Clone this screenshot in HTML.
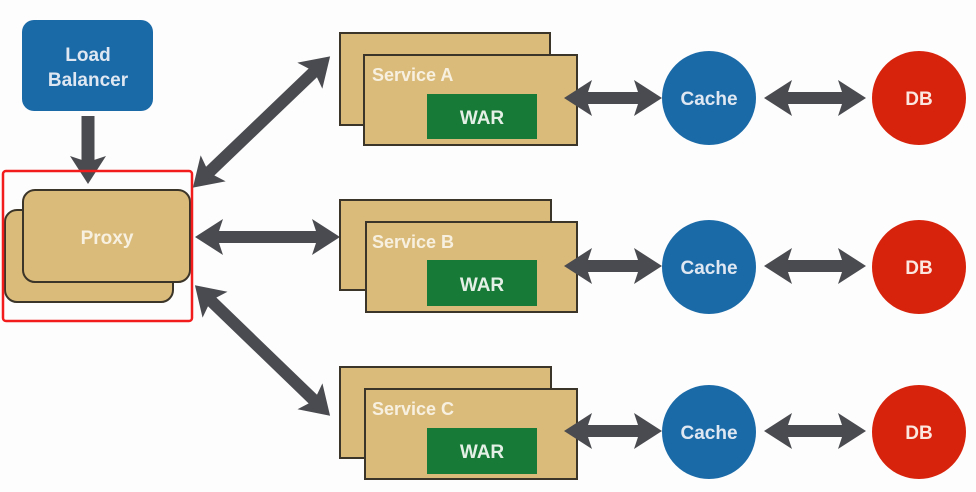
<!DOCTYPE html>
<html><head><meta charset="utf-8"><style>
html,body{margin:0;padding:0;background:#fff;}
svg{display:block;}
text{font-family:"Liberation Sans",sans-serif;font-weight:bold;}
</style></head><body>
<svg width="976" height="492" viewBox="0 0 976 492" xmlns="http://www.w3.org/2000/svg">
<defs>
<marker id="h" markerUnits="userSpaceOnUse" markerWidth="30" markerHeight="36" refX="14" refY="18" orient="auto-start-reverse" viewBox="0 0 30 36">
<path d="M0,0 L28,18 L0,36 L6,18 Z" fill="#4a4b50"/>
</marker>
</defs>
<rect width="976" height="492" fill="#fdfdfd"/>

<!-- Load balancer -->
<rect x="22" y="20" width="131" height="91" rx="12" fill="#1b6aa8"/>
<text x="88" y="61" font-size="19" fill="#dfe8f2" text-anchor="middle">Load</text>
<text x="88" y="86" font-size="19" fill="#dfe8f2" text-anchor="middle">Balancer</text>
<line x1="88" y1="116" x2="88" y2="170" stroke="#4a4b50" stroke-width="13" marker-end="url(#h)"/>

<!-- Proxy -->
<rect x="5" y="210" width="168" height="92" rx="12" fill="#dbbb7a" stroke="#3b3428" stroke-width="2"/>
<rect x="23" y="190" width="167" height="92" rx="12" fill="#dbbb7a" stroke="#3b3428" stroke-width="2"/>
<text x="107" y="244" font-size="19" fill="#f7f0e0" text-anchor="middle">Proxy</text>
<rect x="3" y="171" width="189" height="150" rx="3" fill="none" stroke="#f21c1c" stroke-width="2.5"/>

<!-- proxy arrows -->
<line x1="203" y1="178" x2="320" y2="66" stroke="#4a4b50" stroke-width="12" marker-start="url(#h)" marker-end="url(#h)"/>
<line x1="209" y1="237" x2="326" y2="237" stroke="#4a4b50" stroke-width="12" marker-start="url(#h)" marker-end="url(#h)"/>
<line x1="205" y1="295" x2="320" y2="406" stroke="#4a4b50" stroke-width="12" marker-start="url(#h)" marker-end="url(#h)"/>

<!-- Service A -->
<g>
<rect x="340" y="33" width="210" height="92" fill="#dbbb7a" stroke="#3b3428" stroke-width="2"/>
<rect x="364" y="55" width="213" height="90" fill="#dbbb7a" stroke="#3b3428" stroke-width="2"/>
<text x="372" y="81" font-size="18" fill="#f7f0e0">Service A</text>
<rect x="427" y="94" width="110" height="45" fill="#177a37"/>
<text x="482" y="124" font-size="19" fill="#e4f0e6" text-anchor="middle">WAR</text>
<line x1="578" y1="98" x2="648" y2="98" stroke="#4a4b50" stroke-width="12" marker-start="url(#h)" marker-end="url(#h)"/>
<circle cx="709" cy="98" r="47" fill="#1b6aa8"/>
<text x="709" y="105" font-size="19" fill="#dfe8f2" text-anchor="middle">Cache</text>
<line x1="778" y1="98" x2="852" y2="98" stroke="#4a4b50" stroke-width="12" marker-start="url(#h)" marker-end="url(#h)"/>
<circle cx="919" cy="98" r="47" fill="#d8230c"/>
<text x="919" y="105" font-size="19" fill="#fbe6e0" text-anchor="middle">DB</text>
</g>

<!-- Service B -->
<g>
<rect x="340" y="200" width="211" height="90" fill="#dbbb7a" stroke="#3b3428" stroke-width="2"/>
<rect x="366" y="222" width="211" height="90" fill="#dbbb7a" stroke="#3b3428" stroke-width="2"/>
<text x="372" y="248" font-size="18" fill="#f7f0e0">Service B</text>
<rect x="427" y="260" width="110" height="46" fill="#177a37"/>
<text x="482" y="291" font-size="19" fill="#e4f0e6" text-anchor="middle">WAR</text>
<line x1="578" y1="266" x2="648" y2="266" stroke="#4a4b50" stroke-width="12" marker-start="url(#h)" marker-end="url(#h)"/>
<circle cx="709" cy="267" r="47" fill="#1b6aa8"/>
<text x="709" y="274" font-size="19" fill="#dfe8f2" text-anchor="middle">Cache</text>
<line x1="778" y1="266" x2="852" y2="266" stroke="#4a4b50" stroke-width="12" marker-start="url(#h)" marker-end="url(#h)"/>
<circle cx="919" cy="267" r="47" fill="#d8230c"/>
<text x="919" y="274" font-size="19" fill="#fbe6e0" text-anchor="middle">DB</text>
</g>

<!-- Service C -->
<g>
<rect x="340" y="367" width="211" height="91" fill="#dbbb7a" stroke="#3b3428" stroke-width="2"/>
<rect x="365" y="389" width="212" height="90" fill="#dbbb7a" stroke="#3b3428" stroke-width="2"/>
<text x="372" y="415" font-size="18" fill="#f7f0e0">Service C</text>
<rect x="427" y="428" width="110" height="46" fill="#177a37"/>
<text x="482" y="458" font-size="19" fill="#e4f0e6" text-anchor="middle">WAR</text>
<line x1="578" y1="431" x2="648" y2="431" stroke="#4a4b50" stroke-width="12" marker-start="url(#h)" marker-end="url(#h)"/>
<circle cx="709" cy="432" r="47" fill="#1b6aa8"/>
<text x="709" y="439" font-size="19" fill="#dfe8f2" text-anchor="middle">Cache</text>
<line x1="778" y1="431" x2="852" y2="431" stroke="#4a4b50" stroke-width="12" marker-start="url(#h)" marker-end="url(#h)"/>
<circle cx="919" cy="432" r="47" fill="#d8230c"/>
<text x="919" y="439" font-size="19" fill="#fbe6e0" text-anchor="middle">DB</text>
</g>
</svg>
</body></html>
